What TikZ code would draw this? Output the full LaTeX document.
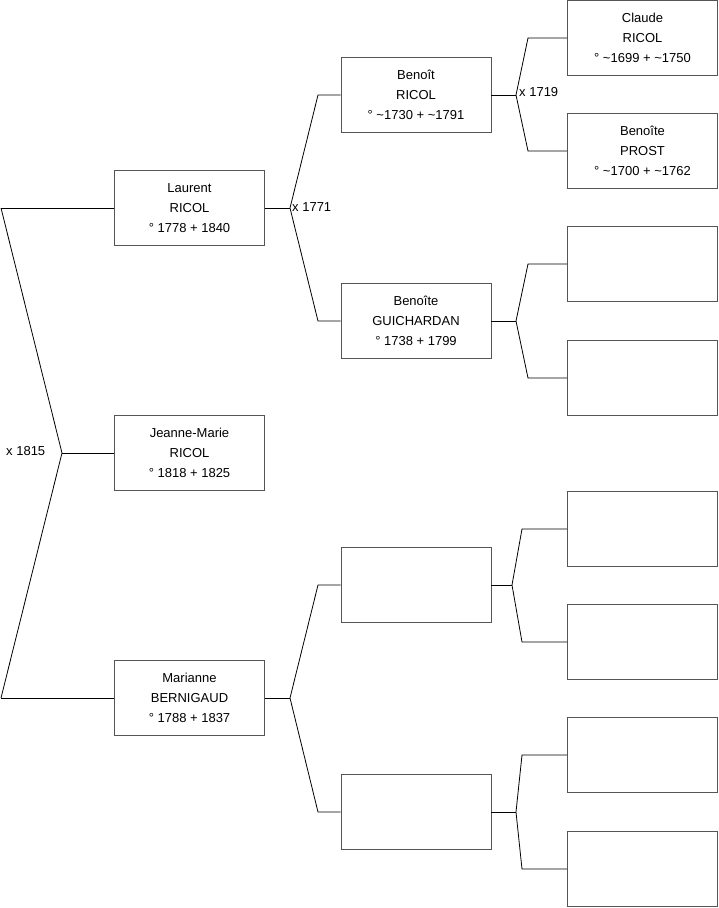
\documentclass[tikz,border=0pt]{standalone}
\usepackage{fontspec}
\setmainfont{Liberation Sans}
\usepackage{tikz}
\definecolor{boxgray}{HTML}{555555}

\tikzset{
  person/.style={draw=boxgray, line width=0.9pt, minimum width=150pt, minimum height=75pt,
    inner sep=0pt, align=center, font=\fontsize{13}{20}\selectfont},
  link/.style={draw=black, line width=0.8pt},
  union/.style={anchor=west, inner sep=1pt, font=\fontsize{13}{14}\selectfont}
}

\begin{document}
\begin{tikzpicture}[x=1pt, y=-1pt]
  \useasboundingbox (0,0) rectangle (719,908);

  % ── Generation 1 ──────────────────────────────────────────────
  \node[person] (laurent) at (189.5,208) {Laurent\\RICOL\\° 1778 + 1840};
  \node[person] (jeanne) at (189.5,453) {Jeanne-Marie\\RICOL\\° 1818 + 1825};
  \node[person] (marianne) at (189.5,698) {Marianne\\BERNIGAUD\\° 1788 + 1837};

  % ── Generation 2 ──────────────────────────────────────────────
  \node[person] (benoit) at (416,95) {Benoît\\RICOL\\° \textasciitilde1730 + \textasciitilde1791};
  \node[person] (guichardan) at (416,321) {Benoîte\\GUICHARDAN\\° 1738 + 1799};
  \node[person] (mfather) at (416,585) {};
  \node[person] (mmother) at (416,812) {};

  % ── Generation 3 ──────────────────────────────────────────────
  \node[person] (claude) at (642.5,38) {Claude\\RICOL\\° \textasciitilde1699 + \textasciitilde1750};
  \node[person] (prost) at (642.5,151) {Benoîte\\PROST\\° \textasciitilde1700 + \textasciitilde1762};
  \node[person] (gfather) at (642.5,264) {};
  \node[person] (gmother) at (642.5,378) {};
  \node[person] (mffather) at (642.5,529) {};
  \node[person] (mfmother) at (642.5,642) {};
  \node[person] (mmfather) at (642.5,755) {};
  \node[person] (mmmother) at (642.5,869) {};

  % ── Fork points ───────────────────────────────────────────────
  \coordinate (rootfork) at (62,453);
  \coordinate (rootup) at (1,208);
  \coordinate (rootdown) at (1,698);
  \coordinate (lfork) at (290,208);
  \coordinate (lup) at (318,95);
  \coordinate (ldown) at (318,321);
  \coordinate (mfork) at (290,698);
  \coordinate (mup) at (318,585);
  \coordinate (mdown) at (318,812);
  \coordinate (bfork) at (516,95);
  \coordinate (bup) at (528,38);
  \coordinate (bdown) at (528,151);
  \coordinate (gfork) at (516,321);
  \coordinate (gup) at (528,264);
  \coordinate (gdown) at (528,378);
  \coordinate (ffork) at (512,585);
  \coordinate (fup) at (522,529);
  \coordinate (fdown) at (522,642);
  \coordinate (hfork) at (516,812);
  \coordinate (hup) at (522,755);
  \coordinate (hdown) at (522,869);

  % ── Links ─────────────────────────────────────────────────────
  \draw[link] (rootup) -- (laurent.west);
  \draw[link] (rootdown) -- (marianne.west);
  \draw[link] (rootup) -- (rootfork) -- (rootdown);
  \draw[link] (rootfork) -- (jeanne.west);

  \draw[link] (laurent.east) -- (lfork);
  \draw[link] (benoit.west) -- (lup) -- (lfork) -- (ldown) -- (guichardan.west);
  \draw[link] (marianne.east) -- (mfork);
  \draw[link] (mfather.west) -- (mup) -- (mfork) -- (mdown) -- (mmother.west);

  \draw[link] (benoit.east) -- (bfork);
  \draw[link] (claude.west) -- (bup) -- (bfork) -- (bdown) -- (prost.west);
  \draw[link] (guichardan.east) -- (gfork);
  \draw[link] (gfather.west) -- (gup) -- (gfork) -- (gdown) -- (gmother.west);
  \draw[link] (mfather.east) -- (ffork);
  \draw[link] (mffather.west) -- (fup) -- (ffork) -- (fdown) -- (mfmother.west);
  \draw[link] (mmother.east) -- (hfork);
  \draw[link] (mmfather.west) -- (hup) -- (hfork) -- (hdown) -- (mmmother.west);

  % ── Marriage labels ───────────────────────────────────────────
  \node[union] (m1815) at (5,451) {x 1815};
  \node[union] (m1771) at ([xshift=1pt,yshift=1pt]lfork) {x 1771};
  \node[union] (m1719) at ([xshift=2pt,yshift=3pt]bfork) {x 1719};

\end{tikzpicture}
\end{document}
